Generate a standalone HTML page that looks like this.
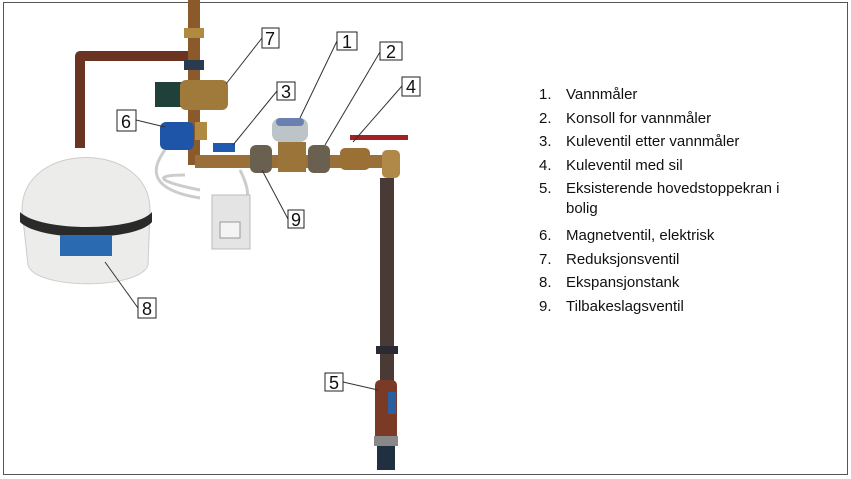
<!DOCTYPE html>
<html><head><meta charset="utf-8"><style>
body{margin:0;background:#fff;width:851px;height:479px;overflow:hidden;font-family:"Liberation Sans",sans-serif}
.lst{position:absolute;left:539px;top:83px;font-size:15px;color:#111;line-height:23.5px}
.lst div{position:relative;padding-left:27px}
.lst span{position:absolute;left:0}
</style></head><body>
<svg width="851" height="479" style="position:absolute;left:0;top:0">
<rect x="3.5" y="2.5" width="844" height="472" fill="none" stroke="#555" stroke-width="1"/>
<path d="M80 148 V56 H188" fill="none" stroke="#6b3322" stroke-width="10" stroke-linejoin="round"/>
<rect x="188" y="0" width="12" height="165" fill="#8a5a2a"/>
<rect x="184" y="28" width="20" height="10" fill="#b08a40"/>
<rect x="184" y="60" width="20" height="10" fill="#2a3a50"/>
<rect x="155" y="82" width="28" height="25" fill="#20403a"/>
<rect x="180" y="80" width="48" height="30" rx="6" fill="#a07a3a"/>
<rect x="195" y="155" width="200" height="13" fill="#9a7038"/>
<rect x="250" y="145" width="22" height="28" rx="6" fill="#6a6050"/>
<rect x="308" y="145" width="22" height="28" rx="6" fill="#6a6050"/>
<rect x="272" y="118" width="36" height="24" rx="8" fill="#bcc4c8"/>
<rect x="276" y="118" width="28" height="8" rx="4" fill="#6a80b0"/>
<rect x="278" y="142" width="28" height="30" fill="#9a7438"/>
<rect x="340" y="148" width="30" height="22" rx="5" fill="#9a7035"/>
<rect x="350" y="135" width="58" height="5" fill="#a52020"/>
<rect x="382" y="150" width="18" height="28" rx="5" fill="#b08848"/>
<rect x="380" y="178" width="14" height="292" fill="#4a3a35"/>
<rect x="376" y="346" width="22" height="8" fill="#2a2a35"/>
<rect x="375" y="380" width="22" height="66" rx="5" fill="#7a3a25"/>
<rect x="388" y="392" width="8" height="22" fill="#2a60a0"/>
<rect x="374" y="436" width="24" height="10" fill="#888"/>
<rect x="377" y="446" width="18" height="24" fill="#203040"/>
<rect x="160" y="122" width="34" height="28" rx="6" fill="#1f55a8"/>
<rect x="195" y="122" width="12" height="18" fill="#b08a40"/>
<rect x="213" y="143" width="22" height="9" fill="#1f5ab0"/>
<path d="M165 150 C150 170,150 190,200 198 M200 190 C160 182,150 175,185 175 M240 170 C250 190,250 200,240 210" stroke="#ccc" stroke-width="3" fill="none"/>
<rect x="212" y="195" width="38" height="54" fill="#e4e4e4" stroke="#bbb"/>
<rect x="220" y="222" width="20" height="16" fill="#f4f4f4" stroke="#999"/>
<path d="M22 210 C22 140,150 140,150 210 L148 265 C140 290,35 290,28 265 Z" fill="#ececea" stroke="#ccc"/>
<path d="M20 212 C40 232,135 232,152 212 L152 222 C135 242,40 242,20 222 Z" fill="#2a2a2a"/>
<rect x="60" y="235" width="52" height="21" fill="#2a6ab0"/>
<g stroke="#333" stroke-width="1" fill="none">
<path d="M262 38 L226 84"/><path d="M337 41 L300 118"/><path d="M380 52 L325 145"/>
<path d="M402 86 L353 142"/><path d="M277 91 L233 145"/><path d="M136 120 L165 127"/>
<path d="M288 219 L262 170"/><path d="M138 308 L105 262"/><path d="M343 382 L378 390"/>
</g>
<g font-family="Liberation Sans" font-size="18" fill="#111" stroke="none">
<g fill="#fff" stroke="#222">
<rect x="262" y="28" width="17" height="20"/><rect x="337" y="32" width="20" height="18"/>
<rect x="380" y="42" width="22" height="18"/><rect x="402" y="77" width="18" height="19"/>
<rect x="277" y="82" width="18" height="18"/><rect x="117" y="110" width="19" height="21"/>
<rect x="288" y="210" width="16" height="18"/><rect x="138" y="298" width="18" height="20"/>
<rect x="325" y="373" width="18" height="18"/></g>
<text x="265" y="45">7</text><text x="342" y="48">1</text><text x="386" y="58">2</text>
<text x="406" y="93">4</text><text x="281" y="98">3</text><text x="121" y="128">6</text>
<text x="291" y="226">9</text><text x="142" y="315">8</text><text x="329" y="389">5</text>
</g>
</svg>
<div class="lst">
<div><span>1.</span>Vannmåler</div>
<div><span>2.</span>Konsoll for vannmåler</div>
<div><span>3.</span>Kuleventil etter vannmåler</div>
<div><span>4.</span>Kuleventil med sil</div>
<div style="line-height:20px;padding-top:2px;padding-bottom:5px"><span>5.</span>Eksisterende hovedstoppekran i<br>bolig</div>
<div><span>6.</span>Magnetventil, elektrisk</div>
<div><span>7.</span>Reduksjonsventil</div>
<div><span>8.</span>Ekspansjonstank</div>
<div><span>9.</span>Tilbakeslagsventil</div>
</div>
</body></html>
